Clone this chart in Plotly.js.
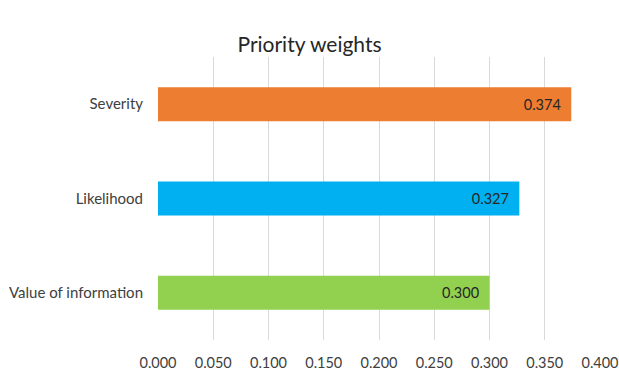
<!DOCTYPE html>
<html><head><meta charset="utf-8">
<script src="https://cdn.plot.ly/plotly-3.0.1.min.js"></script>
<style>html,body{margin:0;padding:0;background:#fff}</style>
</head><body><div id="chart" style="width:619px;height:373px"></div>
<script>
const categories = ["Value of information", "Likelihood", "Severity"];
const weights = [0.300, 0.327, 0.374];
const barColors = ["#92D050", "#00B0F0", "#ED7D31"];
const tickVals = [0, 0.05, 0.1, 0.15, 0.2, 0.25, 0.3, 0.35, 0.4];

const FONT = "Lato, 'Open Sans', sans-serif";
Plotly.newPlot("chart", [{
  type: "bar", orientation: "h",
  y: categories, x: weights,
  marker: {color: barColors},
  text: weights.map(v => v.toFixed(3) + "  "),
  textposition: "inside", insidetextanchor: "end",
  textfont: {family: FONT, size: 14.5, color: "#262626"},
  hoverinfo: "none"
}], {
  width: 619, height: 373,
  margin: {l: 158, r: 19, t: 57, b: 33},
  paper_bgcolor: "#fff", plot_bgcolor: "#fff",
  title: {text: "Priority weights", x: 0.5, xanchor: "center", y: 0.88, yanchor: "middle",
          font: {family: FONT, size: 21, color: "#262626"}},
  bargap: 0.64,
  showlegend: false,
  xaxis: {range: [0, 0.4], tickvals: tickVals, tickformat: ".3f",
          showgrid: true, gridcolor: "#D9D9D9", gridwidth: 1, zeroline: false,
          showline: false, ticks: "", ticklabelstandoff: 12, ticklabeloverflow: "allow",
          automargin: false,
          tickfont: {family: FONT, size: 14.5, color: "#404040"}},
  yaxis: {showgrid: false, zeroline: false, showline: false, ticks: "",
          ticklabelstandoff: 14, automargin: false,
          tickfont: {family: FONT, size: 15, color: "#404040"}}
}, {displayModeBar: false, staticPlot: true});
</script></body></html>
